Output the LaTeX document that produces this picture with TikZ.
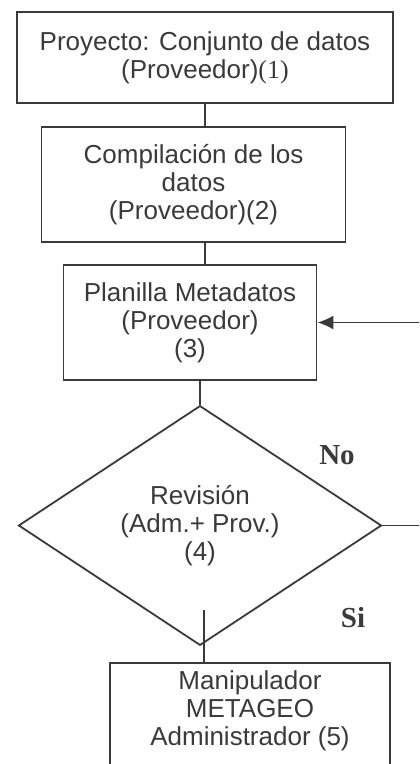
\documentclass[tikz,border=0pt]{standalone}
\usepackage{fontspec}
\setmainfont{Liberation Sans}
\newfontfamily\numfont{Liberation Serif}
\usetikzlibrary{shapes.geometric, arrows.meta, calc}
\definecolor{ink}{HTML}{3A3A3A}

\begin{document}
\begin{tikzpicture}[x=0.5pt, y=-0.5pt]
    % process boxes
    \tikzstyle{box}=[draw=ink, line width=0.9pt, rectangle, inner sep=0, align=center, text=ink, font=\fontsize{13}{14}\selectfont]
    % decision
    \tikzstyle{decision}=[draw=ink, line width=0.9pt, diamond, inner sep=0, align=center, text=ink, font=\fontsize{13}{14}\selectfont]
    % Si / No
    \tikzstyle{answer}=[text=ink, font=\numfont\bfseries\fontsize{14.5}{16}\selectfont]
    \tikzstyle{flow}=[draw=ink, line width=0.9pt]
    \useasboundingbox (0,0) rectangle (419,764);
    \clip (0,0) rectangle (419,764);
    \fill[white] (0,0) rectangle (419,764);
    \node[box, minimum width=188pt, minimum height=45.5pt] (box1) at (205,57.5) {Proyecto: Conjunto de datos\\(Proveedor){\numfont(1)}};
    \node[box, minimum width=152pt, minimum height=57.5pt] (box2) at (193.5,184.5) {Compilación de los\\datos\\(Proveedor)(2)};
    \node[box, minimum width=126.5pt, minimum height=57.5pt] (box3) at (190,322.5) {Planilla Metadatos\\(Proveedor)\\(3)};
    \node[decision, minimum width=181.5pt, minimum height=100pt] (rev) at (200,525.5) {Revisión\\(Adm.+ Prov.)\\(4)};
    % last box runs past the lower edge
    \node[box, minimum width=140pt, minimum height=75pt, anchor=north] (box5) at (250,662) {};
    \node[text=ink, align=center, font=\fontsize{13}{14}\selectfont] (box5txt) at (250,711) {Manipulador\\METAGEO\\Administrador (5)};
    \node[answer] (lblno) at (337,455) {No};
    \node[answer] (lblsi) at (353,618) {Si};
    \coordinate (down) at (205,0);
    \coordinate (si) at (204,610);
    \draw[flow] (down |- box1.south) -- (down |- box2.north);
    \draw[flow] (down |- box2.south) -- (down |- box3.north);
    \draw[flow] (rev.north |- box3.south) -- (rev.north);
    \draw[flow] (si) -- (si |- box5.north);
    \draw[flow, -{Latex[length=8pt,width=7pt]}] (rev.east) -- ++(70,0) |- (box3.east);
\end{tikzpicture}
\end{document}
